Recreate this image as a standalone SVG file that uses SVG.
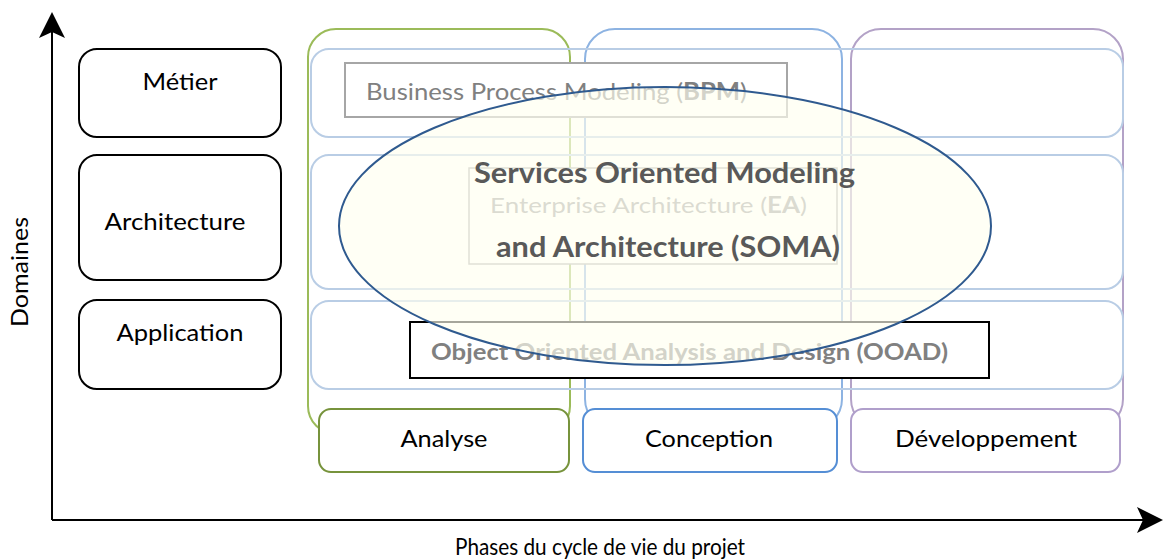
<svg xmlns="http://www.w3.org/2000/svg" width="1163" height="560" viewBox="0 0 1163 560">
<defs>
<style>
.t{font-family:Lato,"Liberation Sans",sans-serif;fill:#000}
.dom{fill:#fff;stroke:#000;stroke-width:2}
.row{fill:none;stroke:#b9cde5;stroke-width:2}
.col{fill:none;stroke-width:2}
.ph{fill:#fff;stroke-width:2}
.axis{fill:none;stroke:#000;stroke-width:2}
</style>
<marker id="ah" viewBox="0 0 26 26" refX="24" refY="13" markerWidth="26" markerHeight="26" markerUnits="userSpaceOnUse" orient="auto">
<path d="M0,0 L26,13 L0,26 L6,13 Z" fill="#000"/>
</marker>
</defs>
<rect width="1163" height="560" fill="#fff"/>

<g id="connectors">
<path class="axis" d="M52,520 L52,14" marker-end="url(#ah)"/>
<path class="axis" d="M52,520 L1161,520" marker-end="url(#ah)"/>
</g>

<g id="col-analyse"><rect class="col" x="308" y="29" width="262" height="405" rx="28" stroke="#9bbb59"/></g>
<g id="col-conception"><rect class="col" x="585" y="29" width="257" height="400" rx="30" stroke="#8db3e2"/></g>
<g id="col-developpement"><rect class="col" x="851" y="29" width="272" height="400" rx="30" stroke="#b3a2c7"/></g>

<g id="row-metier"><rect class="row" x="311" y="49" width="812" height="88" rx="18"/></g>
<g id="row-architecture"><rect class="row" x="311" y="155" width="812" height="134" rx="18"/></g>
<g id="row-application"><rect class="row" x="311" y="301" width="812" height="88" rx="18"/></g>

<g id="phase-analyse">
<rect class="ph" x="319" y="409" width="250" height="63" rx="12" stroke="#77933c"/>
<text class="t" x="444" y="447" font-size="24" text-anchor="middle" textLength="87" lengthAdjust="spacingAndGlyphs">Analyse</text>
</g>
<g id="phase-conception">
<rect class="ph" x="583" y="409" width="254" height="63" rx="12" stroke="#558ed5"/>
<text class="t" x="709" y="447" font-size="24" text-anchor="middle" textLength="128" lengthAdjust="spacingAndGlyphs">Conception</text>
</g>
<g id="phase-developpement">
<rect class="ph" x="851" y="409" width="269" height="63" rx="12" stroke="#b09fcb"/>
<text class="t" x="986" y="447" font-size="24" text-anchor="middle" textLength="182" lengthAdjust="spacingAndGlyphs">Développement</text>
</g>

<g id="dom-metier">
<rect class="dom" x="79" y="49" width="202" height="88" rx="18"/>
<text class="t" x="180" y="90" font-size="24" text-anchor="middle" textLength="75" lengthAdjust="spacingAndGlyphs">Métier</text>
</g>
<g id="dom-architecture">
<rect class="dom" x="79" y="155" width="202" height="125" rx="18"/>
<text class="t" x="175" y="230" font-size="24" text-anchor="middle" textLength="141" lengthAdjust="spacingAndGlyphs">Architecture</text>
</g>
<g id="dom-application">
<rect class="dom" x="79" y="300" width="202" height="89" rx="18"/>
<text class="t" x="180" y="341" font-size="24" text-anchor="middle" textLength="127" lengthAdjust="spacingAndGlyphs">Application</text>
</g>

<g id="bpm">
<rect x="345" y="63" width="442" height="54" fill="#fff" stroke="#a6a6a6" stroke-width="2"/>
<text class="t" x="366" y="100" font-size="24" style="fill:#808080" textLength="381" lengthAdjust="spacingAndGlyphs">Business Process Modeling (<tspan font-weight="bold">BPM</tspan>)</text>
</g>
<g id="ea">
<rect x="469" y="168" width="368" height="96" fill="#fff" stroke="#a6a6a6" stroke-width="1.5"/>
<text class="t" x="490" y="213" font-size="22" style="fill:#999999" textLength="317" lengthAdjust="spacingAndGlyphs">Enterprise Architecture (<tspan font-weight="bold">EA</tspan>)</text>
</g>
<g id="ooad">
<rect x="410" y="322" width="579" height="56" fill="#fff" stroke="#000" stroke-width="2"/>
<text class="t" x="431" y="360" font-size="23" font-weight="bold" style="fill:#808080" textLength="517" lengthAdjust="spacingAndGlyphs">Object Oriented Analysis and Design (OOAD)</text>
</g>

<g id="soma">
<ellipse cx="665" cy="226" rx="326" ry="139" fill="#fffff0" fill-opacity="0.65" stroke="#2f5a8f" stroke-width="2"/>
<text class="t" x="474" y="183" font-size="28" font-weight="bold" style="fill:#595959" textLength="381" lengthAdjust="spacingAndGlyphs">Services Oriented Modeling</text>
<text class="t" x="496" y="257" font-size="28" font-weight="bold" style="fill:#595959" textLength="344" lengthAdjust="spacingAndGlyphs">and Architecture (SOMA)</text>
</g>

<g id="labels">
<text class="t" transform="translate(28,272) rotate(-90)" font-size="23" text-anchor="middle" textLength="110" lengthAdjust="spacingAndGlyphs">Domaines</text>
<text class="t" x="600" y="555" font-size="23" text-anchor="middle" textLength="290" lengthAdjust="spacingAndGlyphs">Phases du cycle de vie du projet</text>
</g>
</svg>
